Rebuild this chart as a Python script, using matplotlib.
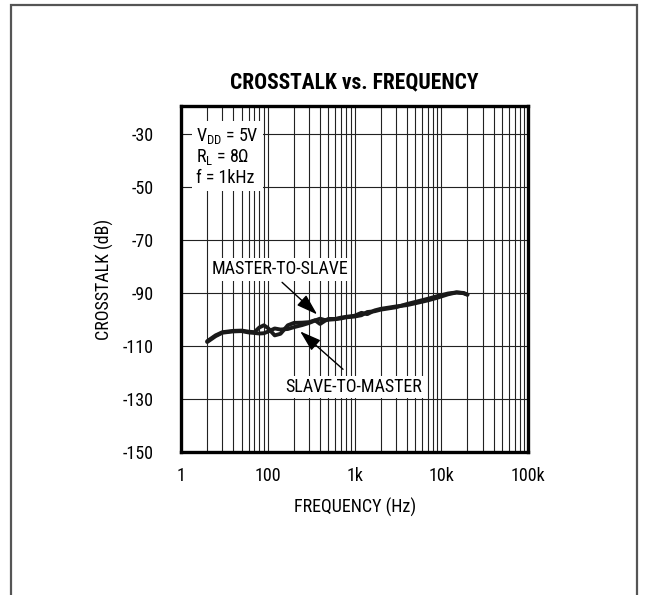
import matplotlib
matplotlib.use("Agg")
import matplotlib.pyplot as plt
import matplotlib.patches as patches
from matplotlib import font_manager
from matplotlib.ticker import FixedLocator, LogLocator, NullFormatter

# ---------------------------------------------------------------------------
# Data
# ---------------------------------------------------------------------------
freq_hz = [20, 25, 30, 40, 50, 60, 70, 80, 90, 100, 120, 140, 170, 200, 250,
           300, 350, 400, 450, 500, 600, 700, 800, 1000, 1200, 1400, 1700,
           2000, 3000, 4000, 5000, 7000, 9000, 12000, 15000, 18000, 20000]
master_to_slave = [-108.2, -106.0, -104.8, -104.3, -104.2, -104.6, -104.8,
                   -103.0, -102.2, -103.2, -106.0, -105.4, -102.2, -101.3,
                   -101.2, -101.0, -100.3, -101.7, -100.6, -99.8, -99.8,
                   -99.3, -99.0, -98.6, -97.5, -98.0, -96.6, -96.0, -95.1,
                   -94.6, -93.9, -92.8, -91.8, -90.5, -89.8, -90.0, -90.6]
slave_to_master = [-108.5, -106.3, -105.0, -104.5, -104.4, -104.9, -105.1,
                   -105.3, -105.2, -104.6, -103.4, -103.8, -103.6, -102.9,
                   -102.1, -101.3, -100.4, -99.7, -100.2, -100.1, -99.9,
                   -99.6, -99.2, -98.9, -98.4, -97.2, -96.9, -96.3, -95.4,
                   -94.2, -93.4, -92.2, -91.2, -90.2, -89.8, -90.1, -90.7]

x_ticks = [10, 100, 1000, 10000, 100000]
x_tick_labels = ["1", "100", "1k", "10k", "100k"]
y_ticks = [-30, -50, -70, -90, -110, -130, -150]

# narrow face if the box has one, else Arial-metric Liberation Sans
installed = {f.name for f in font_manager.fontManager.ttflist}
narrow = [n for n in ("Liberation Sans Narrow", "Roboto Condensed") if n in installed]
FONT = narrow[:1] + ["Liberation Sans", "DejaVu Sans"]
FS = 13 if narrow else 10.5
plt.rcParams["font.family"] = FONT
plt.rcParams["mathtext.fontset"] = "custom"
plt.rcParams["mathtext.rm"] = FONT[0]
plt.rcParams["mathtext.it"] = FONT[0]

fig = plt.figure(figsize=(6.49, 5.95), dpi=100)
ax = fig.add_axes([0.279, 0.2403, 0.5347, 0.5815])

# outer page frame
fig.patches.append(patches.Rectangle((11 / 649, -0.1), (637 - 11) / 649, 1.1 - 5 / 595,
                                     transform=fig.transFigure, fill=False,
                                     edgecolor="#555555", linewidth=1.6))

ax.plot(freq_hz, master_to_slave, color="#1a1a1a", lw=2.8, solid_capstyle="round", zorder=4)
ax.plot(freq_hz, slave_to_master, color="#1a1a1a", lw=2.8, solid_capstyle="round", zorder=4)

ax.set_xscale("log")
ax.set_xlim(10, 100000)
ax.set_ylim(-150, -19.5)
ax.xaxis.set_major_locator(FixedLocator(x_ticks))
ax.set_xticklabels(x_tick_labels)
ax.xaxis.set_minor_locator(LogLocator(base=10, subs=range(2, 10)))
ax.xaxis.set_minor_formatter(NullFormatter())
ax.set_yticks(y_ticks)
ax.set_yticklabels([str(v) for v in y_ticks])

ax.grid(True, which="both", axis="x", color="#222222", lw=0.8, zorder=1)
ax.grid(True, which="major", axis="y", color="#222222", lw=0.8, zorder=1)
ax.tick_params(which="both", length=0)
ax.tick_params(axis="y", pad=20, labelsize=FS)
ax.tick_params(axis="x", pad=11, labelsize=FS)
for s in ax.spines.values():
    s.set_linewidth(2.4)
    s.set_color("black")
    s.set_zorder(6)

ax.set_xlabel("FREQUENCY (Hz)", fontsize=FS, labelpad=9)
ax.set_ylabel("CROSSTALK (dB)", fontsize=FS, labelpad=6)
ax.set_title("CROSSTALK vs. FREQUENCY", fontsize=15.5, fontweight="bold", pad=13)

# conditions box
ax.text(15.0, -38.5, "V$_{\\mathrm{DD}}$ = 5V\nR$_{\\mathrm{L}}$ = 8Ω\nf = 1kHz",
        fontsize=FS, va="center", ha="left", linespacing=1.1, zorder=5,
        bbox=dict(facecolor="white", edgecolor="none", pad=3))

# curve labels with arrows
arrow = dict(arrowstyle="-|>,head_length=1.3,head_width=0.42", color="black",
             lw=1.0, shrinkA=0, shrinkB=0)
ax.text(138, -81.1, "MASTER-TO-SLAVE", fontsize=FS, ha="center", va="center",
        zorder=5, bbox=dict(facecolor="white", edgecolor="none", pad=1.5))
ax.annotate("", xy=(370, -98.1), xytext=(146, -86.0), arrowprops=arrow, zorder=5)
ax.text(986, -125.5, "SLAVE-TO-MASTER", fontsize=FS, ha="center", va="center",
        zorder=5, bbox=dict(facecolor="white", edgecolor="none", pad=1.5))
ax.annotate("", xy=(236, -104.5), xytext=(736, -118.8), arrowprops=arrow, zorder=5)

fig.savefig("out.png", dpi=100)
